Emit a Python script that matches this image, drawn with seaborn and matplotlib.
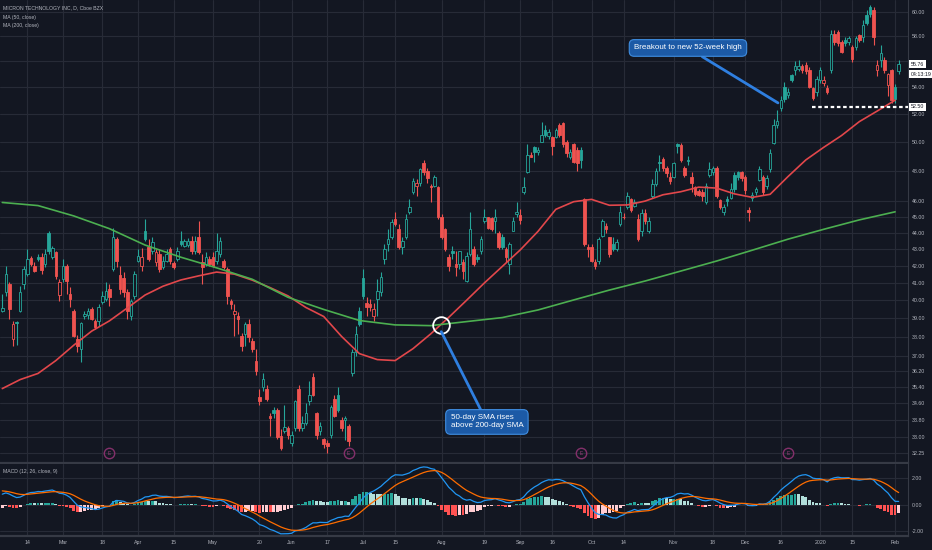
import numpy as np
import pandas as pd
import seaborn as sns
import matplotlib
matplotlib.use("Agg")
import matplotlib.pyplot as plt
from matplotlib.ticker import FixedLocator, FixedFormatter, NullLocator, NullFormatter

# MU daily candles, Feb 5 2019 .. Feb 4 2020
opens = [39.40, 40.47, 40.93, 37.90, 38.80, 39.41, 40.93, 41.51, 42.45, 42.00,
         42.50, 42.54, 42.09, 44.00, 42.50, 42.80, 40.30, 41.22, 41.97, 40.36,
         39.41, 37.90, 37.37, 39.10, 39.20, 39.52, 38.86, 38.86, 39.91, 40.08,
         40.64, 41.80, 43.59, 41.45, 41.30, 40.47, 39.14, 40.25, 42.30, 41.97,
         44.07, 43.10, 42.86, 42.20, 42.69, 41.92, 42.30, 42.98, 42.15, 42.39,
         43.50, 43.20, 43.25, 43.47, 42.86, 43.71, 42.20, 42.10, 42.39, 42.54,
         42.27, 42.69, 42.27, 41.80, 39.97, 39.25, 39.14, 38.06, 38.16, 38.70,
         37.80, 36.75, 34.90, 35.43, 35.33, 34.00, 34.26, 34.26, 33.05, 33.30,
         33.41, 32.75, 33.41, 35.33, 33.41, 33.64, 34.70, 35.93, 34.12, 33.30,
         32.90, 32.72, 33.10, 34.84, 35.00, 33.78, 33.78, 33.50, 36.09, 37.20,
         39.40, 41.30, 39.85, 39.80, 39.10, 40.08, 40.47, 42.39, 43.29, 43.75,
         44.83, 44.20, 43.10, 43.71, 45.30, 46.55, 47.00, 47.20, 48.50, 48.00,
         46.95, 46.95, 46.90, 44.95, 44.20, 42.50, 42.90, 42.09, 42.09, 42.20,
         41.10, 42.69, 42.98, 42.50, 42.90, 44.70, 44.95, 44.90, 44.70, 44.00,
         43.75, 43.00, 42.10, 44.10, 45.14, 45.10, 46.60, 47.90, 49.10, 49.60,
         49.25, 50.00, 50.85, 50.40, 50.30, 50.35, 51.21, 51.35, 49.95, 48.95,
         49.80, 49.44, 49.44, 46.10, 43.10, 43.10, 42.20, 42.27, 43.80, 44.40,
         43.70, 43.29, 42.98, 44.50, 45.00, 45.60, 46.10, 45.70, 44.83, 44.07,
         45.20, 44.07, 46.30, 47.10, 48.60, 48.80, 48.20, 47.60, 47.60, 49.80,
         49.79, 48.20, 48.70, 47.60, 46.90, 46.65, 46.60, 45.90, 47.74, 47.90,
         48.20, 46.05, 45.30, 46.10, 46.20, 47.74, 47.90, 47.90, 47.60, 45.40,
         46.20, 46.60, 47.40, 47.60, 46.95, 48.10, 49.90, 51.20, 52.40, 54.00,
         53.40, 54.90, 55.30, 55.40, 55.60, 55.70, 55.30, 53.90, 53.60, 54.54,
         54.30, 53.90, 55.30, 58.20, 58.30, 57.50, 57.70, 57.50, 57.10, 57.10,
         58.10, 57.90, 59.75, 60.40, 60.17, 55.30, 56.10, 56.10, 54.16, 55.30,
         54.00, 55.20]
highs = [40.36, 41.97, 41.05, 38.85, 38.85, 40.80, 41.97, 43.00, 42.60, 42.20,
         42.69, 42.75, 42.98, 44.07, 43.20, 42.90, 41.20, 42.39, 42.09, 40.75,
         39.52, 38.10, 38.80, 39.40, 39.55, 39.60, 38.97, 39.80, 40.50, 41.05,
         40.90, 44.30, 43.75, 42.00, 41.60, 40.64, 40.10, 41.70, 43.00, 43.05,
         44.83, 43.60, 43.70, 43.00, 42.98, 42.60, 43.00, 43.10, 42.30, 43.10,
         44.10, 43.60, 43.65, 43.80, 43.80, 44.70, 42.70, 42.80, 42.60, 42.80,
         44.00, 43.70, 42.40, 41.90, 40.10, 39.80, 39.35, 38.20, 38.80, 38.97,
         37.95, 37.37, 35.30, 36.10, 35.50, 34.12, 34.45, 34.36, 33.40, 34.50,
         33.50, 33.30, 34.75, 35.50, 34.00, 34.60, 35.70, 36.09, 34.20, 33.70,
         32.95, 32.85, 34.50, 35.00, 35.40, 33.95, 34.00, 33.60, 37.37, 38.60,
         39.63, 41.80, 40.20, 40.08, 39.85, 41.22, 41.60, 43.30, 44.20, 44.83,
         45.30, 44.50, 43.75, 45.14, 46.10, 47.50, 47.41, 48.20, 48.75, 48.20,
         47.08, 47.74, 47.00, 45.14, 44.30, 42.69, 43.20, 42.86, 42.90, 42.39,
         42.80, 45.30, 43.17, 42.69, 43.80, 45.46, 45.00, 45.00, 45.46, 44.07,
         43.90, 43.10, 43.40, 44.95, 45.90, 45.46, 47.60, 49.80, 49.30, 49.70,
         49.60, 51.40, 51.20, 50.90, 50.40, 51.00, 51.35, 51.40, 50.10, 49.50,
         49.90, 49.60, 49.60, 46.20, 43.29, 43.29, 42.39, 43.70, 44.83, 44.60,
         43.75, 43.75, 43.60, 45.65, 45.20, 46.60, 46.20, 46.10, 45.14, 45.46,
         45.46, 44.95, 47.41, 48.20, 49.10, 48.90, 48.30, 47.90, 48.60, 49.90,
         49.90, 48.30, 49.00, 47.90, 47.00, 46.80, 46.75, 47.20, 48.60, 48.30,
         48.30, 46.10, 45.80, 46.30, 47.20, 47.90, 48.00, 48.00, 47.74, 45.60,
         46.60, 46.90, 48.30, 47.74, 47.70, 49.50, 51.60, 52.30, 53.30, 54.40,
         53.90, 55.00, 56.00, 56.10, 55.80, 55.90, 55.50, 54.00, 54.80, 55.50,
         54.80, 54.16, 58.50, 58.50, 58.50, 57.69, 57.90, 58.00, 57.30, 58.00,
         58.20, 59.33, 60.17, 60.60, 60.40, 56.10, 57.30, 56.30, 55.10, 55.40,
         54.20, 56.10]
lows = [39.35, 40.25, 38.97, 37.50, 37.55, 39.35, 40.64, 41.40, 41.95, 41.60,
        42.30, 41.51, 41.92, 42.69, 42.40, 41.22, 39.95, 41.05, 40.36, 39.63,
        38.00, 37.20, 36.70, 38.97, 38.97, 38.90, 38.43, 38.60, 39.80, 39.95,
        39.70, 41.70, 41.92, 40.36, 40.20, 38.97, 38.90, 40.10, 42.20, 41.70,
        43.45, 42.30, 42.70, 42.00, 41.65, 41.80, 42.20, 42.10, 41.80, 42.30,
        43.20, 43.10, 43.10, 42.70, 42.70, 42.69, 40.93, 42.00, 41.95, 41.90,
        42.10, 42.50, 41.80, 39.80, 39.52, 38.06, 38.16, 37.27, 37.50, 37.70,
        37.20, 36.00, 34.50, 35.20, 34.70, 33.05, 33.88, 32.90, 32.40, 33.20,
        32.90, 32.60, 33.30, 33.30, 33.30, 33.55, 34.50, 34.94, 32.90, 33.10,
        32.50, 32.26, 32.95, 33.95, 34.20, 33.30, 32.85, 32.60, 35.95, 37.00,
        38.60, 40.08, 39.10, 39.40, 38.86, 39.10, 40.25, 42.10, 42.86, 43.59,
        44.40, 42.98, 42.69, 43.59, 45.14, 46.43, 46.30, 46.95, 47.70, 47.20,
        45.90, 46.90, 44.83, 43.59, 42.86, 41.70, 42.39, 41.40, 41.80, 41.22,
        41.05, 42.60, 41.97, 42.20, 42.69, 44.60, 44.20, 44.10, 43.95, 42.98,
        42.98, 42.20, 41.50, 44.07, 45.00, 44.50, 46.43, 47.85, 48.90, 48.60,
        49.10, 49.95, 50.30, 50.20, 49.10, 50.28, 50.35, 49.65, 48.90, 48.80,
        48.55, 48.00, 48.20, 43.20, 42.50, 42.20, 41.80, 42.09, 43.70, 44.00,
        42.54, 42.86, 42.86, 44.40, 44.83, 45.46, 45.30, 45.60, 43.50, 43.80,
        44.51, 44.00, 46.20, 46.95, 48.00, 48.00, 47.60, 47.08, 47.50, 49.20,
        48.60, 47.60, 48.40, 46.60, 46.30, 46.30, 45.97, 45.78, 47.60, 47.74,
        46.20, 45.46, 45.10, 45.70, 46.10, 46.60, 47.40, 47.30, 46.43, 44.70,
        46.00, 46.40, 47.30, 46.40, 46.80, 47.90, 49.80, 51.00, 52.20, 52.90,
        53.20, 54.40, 54.90, 55.20, 55.10, 55.00, 53.90, 53.00, 53.30, 54.30,
        54.10, 53.50, 55.10, 57.30, 57.20, 56.60, 57.20, 57.30, 55.90, 56.90,
        57.50, 57.50, 58.90, 59.60, 57.30, 54.80, 55.50, 55.10, 53.30, 52.80,
        52.80, 55.00]
closes = [39.55, 41.51, 39.52, 38.70, 38.75, 40.47, 41.80, 42.39, 42.09, 41.68,
          42.39, 41.74, 42.69, 42.86, 43.05, 41.40, 41.05, 41.97, 41.10, 40.08,
          38.06, 37.50, 38.75, 39.25, 39.40, 38.97, 38.54, 39.63, 40.25, 40.53,
          40.19, 43.70, 42.27, 40.64, 40.47, 39.41, 39.97, 41.51, 42.60, 42.51,
          43.59, 42.39, 43.40, 42.80, 41.80, 42.27, 42.69, 42.27, 41.92, 42.86,
          43.29, 43.47, 43.50, 42.86, 43.47, 42.80, 41.90, 42.54, 42.10, 42.00,
          42.86, 43.47, 41.92, 40.25, 39.80, 39.41, 38.97, 37.50, 38.70, 38.00,
          37.37, 36.20, 34.70, 35.83, 34.84, 33.88, 34.12, 33.00, 32.50, 33.45,
          33.10, 33.12, 34.70, 33.41, 33.64, 34.12, 35.00, 34.99, 33.10, 33.50,
          32.70, 32.60, 34.45, 34.00, 34.26, 33.41, 33.90, 32.80, 37.20, 38.16,
          38.70, 40.25, 39.63, 39.60, 39.52, 40.53, 41.36, 42.98, 43.59, 44.67,
          44.51, 43.10, 43.47, 44.83, 45.60, 47.30, 47.15, 48.08, 47.90, 47.50,
          46.90, 47.60, 44.95, 43.70, 42.98, 42.00, 42.75, 41.92, 42.86, 41.70,
          42.60, 44.20, 42.09, 42.39, 43.59, 45.00, 44.30, 44.20, 45.00, 43.10,
          43.10, 42.50, 43.29, 44.70, 45.30, 44.80, 46.90, 49.10, 48.95, 49.30,
          49.44, 50.50, 50.50, 50.65, 49.70, 50.85, 50.50, 49.80, 49.20, 49.25,
          48.60, 48.55, 48.75, 43.30, 42.98, 42.27, 41.95, 43.59, 44.70, 44.20,
          42.69, 42.98, 43.40, 45.27, 44.95, 46.30, 45.40, 45.95, 43.59, 45.20,
          44.70, 44.70, 47.10, 48.00, 48.50, 48.20, 47.85, 47.30, 48.50, 49.70,
          48.75, 47.74, 48.65, 47.20, 46.43, 46.40, 46.30, 47.00, 48.10, 48.15,
          46.30, 45.60, 45.60, 46.00, 46.75, 46.75, 47.60, 47.50, 46.70, 45.30,
          46.40, 46.75, 48.10, 46.60, 47.50, 49.20, 51.20, 51.50, 53.00, 53.10,
          53.60, 54.54, 55.60, 55.65, 55.30, 55.20, 54.00, 53.20, 54.60, 55.30,
          54.54, 53.60, 58.20, 57.50, 57.40, 56.70, 57.45, 57.85, 56.20, 57.85,
          57.70, 58.90, 59.10, 59.80, 57.90, 55.70, 56.60, 55.30, 55.00, 53.00,
          53.10, 55.76]

# moving averages as drawn on the chart (sampled)
ma50_idx = list(range(0, 251, 5))
ma50 = [35.33, 35.78, 36.09, 36.75, 37.55, 38.30, 38.86, 39.57, 40.30, 40.80,
        41.16, 41.40, 41.62, 41.50, 41.15, 40.72, 40.25, 39.60, 39.10, 38.02,
        37.11, 36.80, 36.75, 37.37, 38.16, 39.05, 40.00, 40.99, 41.95, 42.93,
        44.07, 45.46, 45.95, 46.10, 45.72, 45.74, 45.99, 46.40, 46.60, 46.90,
        46.84, 46.46, 46.23, 46.43, 47.60, 48.73, 49.60, 50.43, 51.43, 52.20,
        53.00]
ma200_idx = list(range(0, 251, 10))
ma200 = [45.90, 45.70, 45.04, 44.24, 43.23, 42.50, 41.87, 41.20, 40.17, 39.49,
         38.88, 38.64, 38.60, 38.82, 39.04, 39.46, 40.02, 40.58, 41.10, 41.68,
         42.27, 42.92, 43.59, 44.20, 44.79, 45.30]
# MACD and signal on the first visible bar
macd_start = 0.85
signal_start = 1.10

date_ticks = [7, 17, 28, 38, 48, 59, 72, 81, 91, 101, 110, 123, 135, 145, 154,
              165, 174, 188, 199, 208, 218, 229, 238, 250]
date_labels = ['14', 'Mar', '18', 'Apr', '15', 'May', '20', 'Jun', '17', 'Jul',
               '15', 'Aug', '19', 'Sep', '16', 'Oct', '14', 'Nov', '18', 'Dec',
               '16', '2020', '15', 'Feb']
price_ticks = [32.25, 33.0, 33.8, 34.6, 35.4, 36.2, 37, 38, 39, 40, 41, 42, 43,
               44, 45, 46, 48, 50, 52, 54, 56, 58, 60]
macd_ticks = [-2, 0, 2]
earnings_idx = [30, 97, 162, 220]
support_level = 52.50
countdown = '04:13:19'

BG = '#131722'
GRID = '#272b37'
TXT = '#b2b5be'
UP = '#26a69a'
DOWN = '#ef5350'
SEP = '#363a45'

sns.set_style('darkgrid', rc={'axes.facecolor': BG, 'figure.facecolor': BG,
                              'grid.color': GRID, 'axes.edgecolor': SEP})
plt.rcParams['font.family'] = ['Liberation Sans', 'DejaVu Sans']

fig = plt.figure(figsize=(9.32, 5.5), dpi=100)
ax = fig.add_axes([0, 0.1582, 0.9742, 0.8418])
ax2 = fig.add_axes([0, 0.0255, 0.9742, 0.1309], sharex=ax)

df = pd.DataFrame({'o': opens, 'h': highs, 'l': lows, 'c': closes})
df['x'] = np.arange(len(df))
prev = df['c'].shift(1).fillna(df['o'])
col = np.where(df['c'] >= prev, UP, DOWN)
hollow = df['c'] >= df['o']
face = [BG if hl else cc for hl, cc in zip(hollow, col)]

ax.set_yscale('log')
ax.vlines(df['x'], df['l'], df['h'], colors=col, lw=0.8, zorder=3)
ax.bar(df['x'], (df['c'] - df['o']).abs().clip(lower=0.04),
       bottom=np.minimum(df['o'], df['c']), width=0.7, color=face,
       edgecolor=col, linewidth=0.6, zorder=4)

sns.lineplot(x=ma50_idx, y=ma50, ax=ax, color='#e2474b', lw=1.2, zorder=5)
sns.lineplot(x=ma200_idx, y=ma200, ax=ax, color='#4caf50', lw=1.2, zorder=5)

# golden cross point from the two averages
m50_on_200 = np.interp(ma200_idx, ma50_idx, ma50)
d = m50_on_200 - np.array(ma200)
k = np.where((d[:-1] < 0) & (d[1:] >= 0))[0][-1]
t = d[k] / (d[k] - d[k + 1])
cross_x = ma200_idx[k] + t * (ma200_idx[k + 1] - ma200_idx[k])
cross_y = ma200[k] + t * (ma200[k + 1] - ma200[k])
ax.plot(cross_x, cross_y, 'o', ms=12, mfc='none', mec='white', mew=1.3, zorder=7)

box = dict(boxstyle='round,pad=0.6', fc='#1c5aa6', ec='#3f8de0', lw=0.8)
ax.annotate('50-day SMA rises\nabove 200-day SMA', xy=(cross_x + 0.2, cross_y * 0.99),
            xytext=(135.7, 33.71), ha='center', va='center', multialignment='left',
            fontsize=5.8, color='white', bbox=box, zorder=8,
            arrowprops=dict(arrowstyle='-', color='#2f7fe0', lw=2, shrinkA=0, shrinkB=0))
ax.annotate('Breakout to new 52-week high', xy=(217.2, 52.8), xytext=(192.0, 57.04),
            ha='center', va='center', fontsize=5.8, color='white', bbox=box, zorder=8,
            arrowprops=dict(arrowstyle='-', color='#2f7fe0', lw=2, shrinkA=0, shrinkB=0))

# earnings markers
ax.plot(earnings_idx, [32.26] * len(earnings_idx), 'o', ms=7.5, mfc='none',
        mec='#83306a', mew=1.0, zorder=6)
for e in earnings_idx:
    ax.text(e, 32.26, 'E', fontsize=3.5, color='#a0407e', ha='center', va='center', zorder=6)

# support line + right side labels
ax.hlines(support_level, 226.7, 253.6, colors='white', linestyles=(0, (1.6, 1.2)), lw=1.6, zorder=6)
lbl = dict(boxstyle='square,pad=0.3', fc='white', ec='none')
ytr = ax.get_yaxis_transform()
ax.text(1.003, closes[-1], f'{closes[-1]:.2f}', transform=ytr, fontsize=3.8, color='#131722',
        va='center', ha='left', bbox=lbl, clip_on=False, zorder=10)
ax.text(1.003, 54.98, countdown, transform=ytr, fontsize=3.8, color='#131722',
        va='center', ha='left', bbox=lbl, clip_on=False, zorder=10)
ax.text(1.003, support_level, f'{support_level:.2f}', transform=ytr, fontsize=3.8,
        color='#131722', va='center', ha='left', bbox=lbl, clip_on=False, zorder=10)

ax.set_ylim(31.82, 61.02)
ax.set_xlim(-0.64, 253.6)
ax.yaxis.tick_right()
ax.yaxis.set_major_locator(FixedLocator(price_ticks))
# the 56.00 label sits under the last-price box
ax.yaxis.set_major_formatter(FixedFormatter(['' if p == 56 else f'{p:.2f}' for p in price_ticks]))
ax.yaxis.set_minor_locator(NullLocator())
ax.yaxis.set_minor_formatter(NullFormatter())
ax.tick_params(axis='y', length=0, pad=3, labelsize=3.8, labelcolor=TXT)
ax.tick_params(axis='x', length=0, labelbottom=False)
ax.grid(True, color=GRID, lw=0.8)
ax.set_axisbelow(True)
ax.set_xlabel('')
ax.set_ylabel('')
for s in ['left', 'top']:
    ax.spines[s].set_visible(False)
ax.spines['right'].set_color(SEP)
ax.spines['bottom'].set_color(SEP)
ax.spines['bottom'].set_linewidth(1.6)

# MACD (12, 26, close, 9), EMAs started from the first bar's readings
a12, a26, a9 = 2 / 13, 2 / 27, 2 / 10
e12, e26 = closes[0], closes[0] - macd_start
sig = signal_start
macd, signal = [], []
for px in closes:
    e12 += a12 * (px - e12)
    e26 += a26 * (px - e26)
    m = e12 - e26
    sig += a9 * (m - sig)
    macd.append(m)
    signal.append(sig)
macd = np.array(macd)
signal = np.array(signal)
hist = macd - signal
hprev = np.concatenate([[hist[0]], hist[:-1]])
hcol = []
for h, hp in zip(hist, hprev):
    if h >= 0:
        hcol.append('#26a69a' if h > hp else '#b2dfdb')
    else:
        hcol.append('#ff5252' if h < hp else '#ffcdd2')
ax2.bar(df['x'], hist, width=0.78, color=hcol, lw=0, zorder=3)
sns.lineplot(x=df['x'], y=macd, ax=ax2, color='#2196f3', lw=0.9, zorder=4)
sns.lineplot(x=df['x'], y=signal, ax=ax2, color='#ff6d00', lw=0.9, zorder=4)

ax2.set_ylim(-2.40, 3.09)
ax2.yaxis.tick_right()
ax2.yaxis.set_major_locator(FixedLocator(macd_ticks))
ax2.yaxis.set_major_formatter(FixedFormatter([f'{v:.2f}' for v in macd_ticks]))
ax2.xaxis.set_major_locator(FixedLocator(date_ticks))
ax2.xaxis.set_major_formatter(FixedFormatter(date_labels))
ax2.tick_params(axis='y', length=0, pad=3, labelsize=3.8, labelcolor=TXT)
ax2.tick_params(axis='x', length=0, pad=3, labelsize=3.8, labelcolor=TXT)
ax2.grid(True, color=GRID, lw=0.8)
ax2.set_axisbelow(True)
ax2.set_xlabel('')
ax2.set_ylabel('')
for s in ['left', 'top']:
    ax2.spines[s].set_visible(False)
ax2.spines['right'].set_color(SEP)
ax2.spines['bottom'].set_color(SEP)
ax2.spines['bottom'].set_linewidth(1.6)

# legend texts
fig.text(3 / 932, 1 - 8 / 550, 'MICRON TECHNOLOGY INC, D, Cboe BZX', fontsize=3.7,
         color=TXT, va='center')
fig.text(3 / 932, 1 - 17 / 550, 'MA (50, close)', fontsize=3.7, color=TXT, va='center')
fig.text(3 / 932, 1 - 26 / 550, 'MA (200, close)', fontsize=3.7, color=TXT, va='center')
fig.text(3 / 932, 1 - 472 / 550, 'MACD (12, 26, close, 9)', fontsize=3.7, color=TXT, va='center')

fig.savefig('out.png', dpi=100, facecolor=BG)
